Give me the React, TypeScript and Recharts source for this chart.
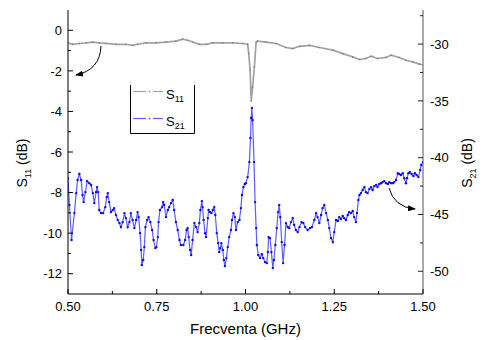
import React from 'react';
import { LineChart, Line, XAxis, YAxis, Legend } from 'recharts';

// ---- data ----
const s11Freq = [
  0.500, 0.513, 0.532, 0.551, 0.570, 0.588, 0.607, 0.635, 0.663, 0.682,
  0.696, 0.720, 0.748, 0.776, 0.804, 0.823, 0.837, 0.851, 0.870, 0.889,
  0.908, 0.936, 0.964, 0.992, 1.006, 1.009, 1.013, 1.016, 1.020, 1.025,
  1.030, 1.034, 1.058, 1.086, 1.114, 1.133, 1.152, 1.180, 1.208, 1.246,
  1.274, 1.302, 1.321, 1.339, 1.354, 1.372, 1.396, 1.410, 1.433, 1.452,
  1.471, 1.490, 1.500,
];
const s11Values = [
  -0.62, -0.69, -0.65, -0.62, -0.58, -0.62, -0.65, -0.69, -0.69, -0.74,
  -0.69, -0.62, -0.62, -0.58, -0.53, -0.44, -0.49, -0.58, -0.69, -0.69,
  -0.62, -0.62, -0.62, -0.65, -0.69, -1.13, -1.97, -3.49, -2.79, -1.81,
  -0.58, -0.53, -0.58, -0.65, -0.85, -0.90, -0.79, -0.74, -0.85, -0.98,
  -1.15, -1.31, -1.44, -1.39, -1.28, -1.39, -1.34, -1.23, -1.34, -1.48,
  -1.56, -1.67, -1.70,
];

const s21Freq = [
  0.500, 0.504, 0.510, 0.518, 0.523, 0.527, 0.532, 0.537, 0.541, 0.544,
  0.549, 0.554, 0.560, 0.565, 0.570, 0.574, 0.579, 0.582, 0.585, 0.588,
  0.593, 0.599, 0.605, 0.609, 0.612, 0.616, 0.621, 0.626, 0.630, 0.635,
  0.640, 0.645, 0.649, 0.654, 0.659, 0.663, 0.668, 0.673, 0.677, 0.682,
  0.687, 0.692, 0.696, 0.699, 0.703, 0.706, 0.708, 0.712, 0.715, 0.718,
  0.723, 0.727, 0.732, 0.737, 0.741, 0.746, 0.749, 0.753, 0.755, 0.759,
  0.765, 0.768, 0.771, 0.776, 0.781, 0.785, 0.790, 0.795, 0.799, 0.804,
  0.809, 0.814, 0.818, 0.825, 0.830, 0.834, 0.837, 0.840, 0.844, 0.847,
  0.851, 0.856, 0.861, 0.865, 0.870, 0.873, 0.877, 0.879, 0.882, 0.886,
  0.889, 0.894, 0.896, 0.900, 0.904, 0.908, 0.912, 0.915, 0.919, 0.923,
  0.926, 0.929, 0.932, 0.936, 0.939, 0.942, 0.946, 0.950, 0.954, 0.959,
  0.962, 0.966, 0.970, 0.973, 0.978, 0.983, 0.987, 0.990, 0.994, 0.998,
  1.001, 1.006, 1.011, 1.014, 1.016, 1.018, 1.020, 1.024, 1.027, 1.030,
  1.032, 1.036, 1.041, 1.046, 1.050, 1.055, 1.060, 1.063, 1.065, 1.069,
  1.073, 1.077, 1.080, 1.084, 1.088, 1.092, 1.095, 1.098, 1.102, 1.106,
  1.110, 1.114, 1.119, 1.123, 1.128, 1.133, 1.137, 1.142, 1.147, 1.152,
  1.158, 1.163, 1.168, 1.175, 1.182, 1.187, 1.194, 1.199, 1.203, 1.208,
  1.213, 1.217, 1.222, 1.227, 1.232, 1.236, 1.241, 1.246, 1.250, 1.255,
  1.260, 1.264, 1.269, 1.274, 1.278, 1.283, 1.288, 1.292, 1.297, 1.302,
  1.306, 1.311, 1.314, 1.318, 1.321, 1.325, 1.330, 1.335, 1.339, 1.344,
  1.349, 1.354, 1.358, 1.363, 1.368, 1.372, 1.377, 1.382, 1.386, 1.391,
  1.396, 1.401, 1.405, 1.410, 1.415, 1.419, 1.424, 1.429, 1.433, 1.438,
  1.443, 1.447, 1.452, 1.455, 1.459, 1.463, 1.468, 1.473, 1.477, 1.482,
  1.487, 1.492, 1.495, 1.500,
];
const s21Values = [
  -41.80, -44.17, -47.25, -44.88, -43.12, -41.97, -41.44, -41.97, -43.29, -43.91,
  -43.03, -42.06, -42.24, -42.41, -43.12, -44.00, -43.03, -42.59, -43.03, -44.61,
  -44.88, -44.88, -44.35, -43.47, -43.12, -43.91, -44.79, -44.61, -44.44, -45.05,
  -45.49, -45.76, -46.11, -45.67, -44.88, -45.32, -46.11, -45.67, -44.88, -45.49,
  -46.20, -45.49, -44.79, -45.23, -46.64, -48.13, -49.45, -49.01, -47.87, -46.11,
  -45.49, -45.23, -45.67, -46.37, -47.25, -47.96, -47.87, -46.99, -45.67, -44.61,
  -44.35, -43.91, -44.17, -45.23, -44.61, -44.35, -44.00, -43.73, -44.61, -45.67,
  -46.37, -47.25, -47.69, -47.69, -47.25, -46.37, -46.20, -46.99, -48.13, -48.57,
  -47.25, -45.76, -46.11, -46.55, -45.76, -44.61, -43.82, -44.35, -45.49, -46.64,
  -46.99, -45.32, -44.61, -44.79, -44.88, -44.61, -44.35, -45.05, -46.64, -47.52,
  -48.31, -47.96, -47.52, -48.13, -49.01, -49.54, -48.84, -47.87, -46.99, -46.37,
  -45.49, -44.88, -45.23, -46.37, -45.67, -45.49, -44.44, -43.29, -42.59, -42.32,
  -42.24, -41.71, -40.39, -38.27, -36.51, -35.63, -36.69, -40.39, -43.91, -46.20,
  -47.69, -48.57, -48.84, -48.49, -48.84, -49.19, -49.28, -48.31, -46.99, -47.08,
  -48.31, -49.72, -49.01, -47.69, -46.20, -44.79, -44.17, -45.23, -47.43, -49.28,
  -47.69, -45.76, -46.11, -46.20, -45.67, -45.32, -45.93, -46.37, -46.55, -46.11,
  -45.67, -45.76, -46.11, -46.37, -46.20, -46.11, -45.49, -44.88, -45.23, -45.76,
  -45.05, -44.44, -44.17, -44.88, -45.49, -46.20, -47.08, -47.43, -46.55, -45.49,
  -45.58, -45.23, -45.40, -45.14, -45.32, -45.49, -45.05, -44.79, -44.88, -44.70,
  -45.23, -45.67, -44.88, -43.73, -43.29, -43.12, -42.85, -42.59, -43.03, -43.12,
  -42.76, -42.59, -42.85, -42.50, -42.41, -42.59, -42.32, -42.24, -42.15, -42.06,
  -42.24, -42.32, -42.15, -42.24, -42.24, -42.15, -41.97, -41.36, -41.44, -41.53,
  -41.36, -41.80, -42.24, -41.80, -41.36, -41.27, -41.44, -41.62, -41.36, -41.53,
  -41.71, -41.09, -40.65, -40.39,
];

const xTicks = [0.5, 0.625, 0.75, 0.875, 1.0, 1.125, 1.25, 1.375, 1.5];
const xMajorTicks = [0.5, 0.75, 1.0, 1.25, 1.5];
const leftTicks = [0, -1, -2, -3, -4, -5, -6, -7, -8, -9, -10, -11, -12];
const leftMajorTicks = [0, -2, -4, -6, -8, -10, -12];
const rightTicks = [-27.5, -30, -32.5, -35, -37.5, -40, -42.5, -45, -47.5, -50];
const rightMajorTicks = [-30, -35, -40, -45, -50];

const s11Data = s11Freq.map((f, i) => ({ f, s11: s11Values[i] }));
const s21Data = s21Freq.map((f, i) => ({ f, s21: s21Values[i] }));

const FONT = "'Liberation Sans', Arial, Helvetica, sans-serif";

const isMajor = (list: number[], v: number) => list.some((m) => Math.abs(m - v) < 1e-9);

const BottomTick = (props: any) => {
  const { x, y, payload } = props;
  const major = isMajor(xMajorTicks, payload.value);
  return (
    <g>
      <line x1={x} y1={y} x2={x} y2={y - (major ? 5 : 3)} stroke="#000" strokeWidth={1} />
      {major && (
        <text x={x} y={y + 8} dy="0.71em" textAnchor="middle" fontSize={13} fontFamily={FONT} fill="#000">
          {Number(payload.value).toFixed(2)}
        </text>
      )}
    </g>
  );
};

const TopTick = (props: any) => {
  const { x, y, payload } = props;
  const major = isMajor(xMajorTicks, payload.value);
  return <line x1={x} y1={y} x2={x} y2={y + (major ? 5 : 3)} stroke="#000" strokeWidth={1} />;
};

const LeftTick = (props: any) => {
  const { x, y, payload } = props;
  const major = isMajor(leftMajorTicks, payload.value);
  return (
    <g>
      <line x1={x} y1={y} x2={x + (major ? 5 : 3)} y2={y} stroke="#000" strokeWidth={1} />
      {major && (
        <text x={x - 6} y={y} dy="0.36em" textAnchor="end" fontSize={13} fontFamily={FONT} fill="#000">
          {payload.value}
        </text>
      )}
    </g>
  );
};

const RightTick = (props: any) => {
  const { x, y, payload } = props;
  const major = isMajor(rightMajorTicks, payload.value);
  return (
    <g>
      <line x1={x} y1={y} x2={x - (major ? 5 : 3)} y2={y} stroke="#222" strokeWidth={1} />
      {major && (
        <text x={x + 7} y={y} dy="0.36em" textAnchor="start" fontSize={13} fontFamily={FONT} fill="#000">
          {payload.value}
        </text>
      )}
    </g>
  );
};

const YTitle = (props: any) => {
  const { viewBox, sub, dxFromLeft } = props;
  if (!viewBox) return null;
  const cx = viewBox.x + dxFromLeft;
  const cy = viewBox.y + viewBox.height / 2 + 11;
  return (
    <text
      x={cx}
      y={cy}
      transform={`rotate(-90, ${cx}, ${cy})`}
      textAnchor="middle"
      fontSize={14}
      fontFamily={FONT}
      fill="#000"
    >
      <tspan>S</tspan>
      <tspan fontSize={9} dy={4}>{sub}</tspan>
      <tspan dy={-4}> (dB)</tspan>
    </text>
  );
};

const XTitle = (props: any) => {
  const { viewBox } = props;
  if (!viewBox) return null;
  return (
    <text
      x={viewBox.x + viewBox.width / 2}
      y={viewBox.y + 40}
      textAnchor="middle"
      fontSize={15}
      fontFamily={FONT}
      fill="#000"
    >
      Frecventa (GHz)
    </text>
  );
};

const LegendBox = (props: any) => {
  const payload = props.payload || [];
  const rows = [6.5, 33.5];
  return (
    <svg width={66} height={50} style={{ display: 'block', overflow: 'visible' }}>
      <polyline points="0.5,0 0.5,48.5 64.5,48.5 64.5,0" fill="none" stroke="#000" strokeWidth={1} />
      {payload.map((p: any, i: number) => {
        const cy = rows[i] ?? 6.5 + i * 27;
        const sub = i === 0 ? '11' : '21';
        const c = p.color;
        return (
          <g key={i}>
            <line x1={3} y1={cy} x2={16} y2={cy} stroke={c} strokeWidth={1.2} />
            <circle cx={19.5} cy={cy} r={0.9} fill={c} />
            <line x1={23} y1={cy} x2={33} y2={cy} stroke={c} strokeWidth={1.2} />
            <text x={36} y={cy + 7} fontSize={13} fontFamily={FONT} fill="#000">
              <tspan>S</tspan>
              <tspan fontSize={9} dy={3}>{sub}</tspan>
            </text>
          </g>
        );
      })}
    </svg>
  );
};

export default function App() {
  return (
    <div style={{ position: 'absolute', left: 0, top: 0, width: 483, height: 340, background: '#fff' }}>
      <LineChart width={483} height={340} margin={{ top: 10, right: 0, bottom: 0, left: 0 }}>
        <XAxis
          dataKey="f"
          type="number"
          domain={[0.5, 1.5]}
          ticks={xTicks}
          allowDataOverflow
          height={46}
          tickSize={0}
          tickMargin={0}
          tickLine={false}
          axisLine={{ stroke: '#000', strokeWidth: 1 }}
          tick={<BottomTick />}
          interval={0}
          label={<XTitle />}
        />
        <XAxis
          xAxisId="top"
          orientation="top"
          dataKey="f"
          type="number"
          domain={[0.5, 1.5]}
          ticks={xTicks}
          allowDataOverflow
          height={0}
          tickSize={0}
          tickMargin={0}
          tickLine={false}
          axisLine={{ stroke: '#000', strokeWidth: 1 }}
          tick={<TopTick />}
          interval={0}
        />
        <YAxis
          yAxisId="left"
          type="number"
          domain={[-13, 1]}
          ticks={leftTicks}
          allowDataOverflow
          width={68}
          tickSize={0}
          tickMargin={0}
          tickLine={false}
          axisLine={{ stroke: '#000', strokeWidth: 1 }}
          tick={<LeftTick />}
          interval={0}
          label={<YTitle sub="11" dxFromLeft={27} />}
        />
        <YAxis
          yAxisId="right"
          orientation="right"
          type="number"
          domain={[-52, -27]}
          ticks={rightTicks}
          allowDataOverflow
          width={60}
          tickSize={0}
          tickMargin={0}
          tickLine={false}
          axisLine={{ stroke: '#8c8c8c', strokeWidth: 1.5 }}
          tick={<RightTick />}
          interval={0}
          label={<YTitle sub="21" dxFromLeft={49} />}
        />
        <Line
          data={s11Data}
          yAxisId="left"
          dataKey="s11"
          name="S11"
          type="linear"
          stroke="#a2a2a2"
          strokeWidth={1.7}
          dot={{ r: 0.8, fill: '#7a7a7a', stroke: 'none' }}
          isAnimationActive={false}
        />
        <Line
          data={s21Data}
          yAxisId="right"
          dataKey="s21"
          name="S21"
          type="linear"
          stroke="#5c5cff"
          strokeWidth={1.2}
          dot={{ r: 1.2, fill: '#0a0af0', stroke: 'none' }}
          isAnimationActive={false}
        />
        <Legend
          layout="vertical"
          verticalAlign="middle"
          align="center"
          content={<LegendBox />}
          wrapperStyle={{ left: 130, top: 85, width: 66, height: 50 }}
          payload={[
            { value: 'S11', type: 'line', color: '#555555', id: 's11' },
            { value: 'S21', type: 'line', color: '#1010e6', id: 's21' },
          ]}
        />
      </LineChart>
      <svg
        width={483}
        height={340}
        style={{ position: 'absolute', left: 0, top: 0, pointerEvents: 'none' }}
      >
        <defs>
          <marker id="ah" markerWidth={8} markerHeight={6} refX={7} refY={3} orient="auto" markerUnits="userSpaceOnUse">
            <path d="M0,0 L8,3 L0,6 z" fill="#000" />
          </marker>
        </defs>
        <path d="M101,46 Q100,70 76,75" fill="none" stroke="#000" strokeWidth={1} markerEnd="url(#ah)" />
        <path d="M389,188 Q394,207 415,209" fill="none" stroke="#000" strokeWidth={1} markerEnd="url(#ah)" />
      </svg>
    </div>
  );
}
